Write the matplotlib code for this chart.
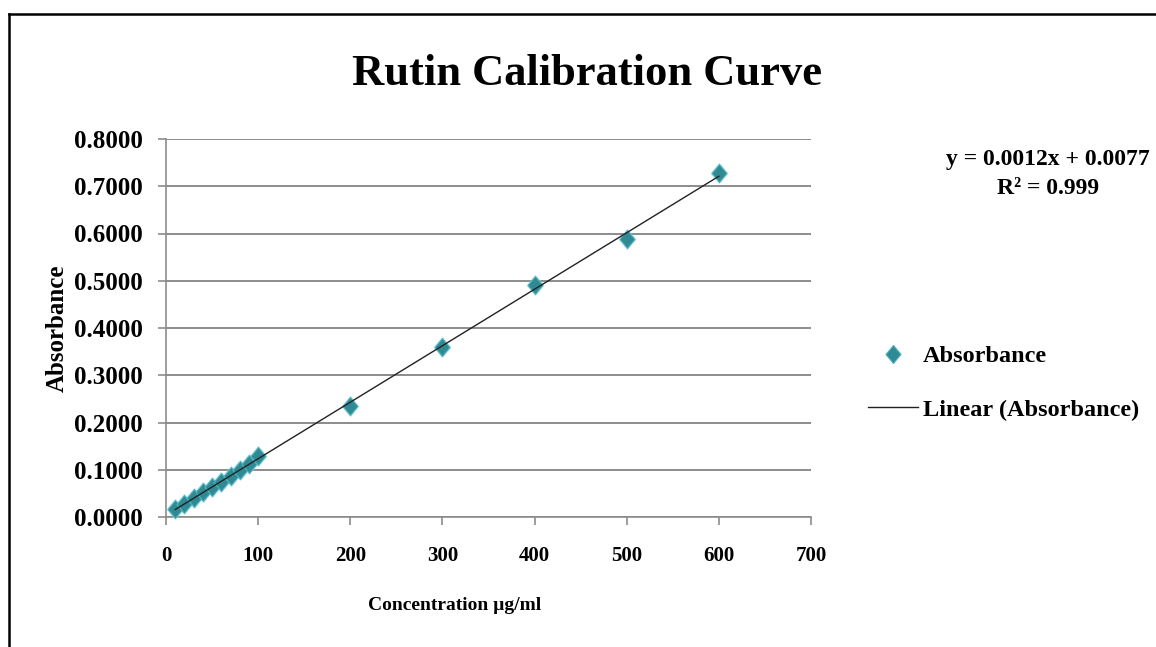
import numpy as np
import matplotlib
matplotlib.use('Agg')
import matplotlib.pyplot as plt
from matplotlib.lines import Line2D
from matplotlib.path import Path

plt.rcParams['font.family'] = ['Liberation Serif', 'DejaVu Serif']
plt.rcParams['font.weight'] = 'bold'

# data
conc = [10, 20, 30, 40, 50, 60, 70, 80, 90, 100, 200, 300, 400, 500, 600]
absorb = [0.016, 0.028, 0.040, 0.052, 0.063, 0.075, 0.087, 0.099, 0.113, 0.129,
          0.235, 0.360, 0.492, 0.589, 0.728]
x_ticks = [0, 100, 200, 300, 400, 500, 600, 700]
y_ticks = [0.0, 0.1, 0.2, 0.3, 0.4, 0.5, 0.6, 0.7, 0.8]

W, H = 1156, 647
fig = plt.figure(figsize=(W / 100, H / 100), dpi=100)
ax = fig.add_axes([166 / W, 1 - 517 / H, 645 / W, 378 / H])

teal = '#2f8a94'
gray = '#8c8c8c'

# slightly tall diamond like the Excel marker
diamond = Path([(0, -1.2), (1, 0), (0, 1.2), (-1, 0), (0, -1.2)],
               [Path.MOVETO, Path.LINETO, Path.LINETO, Path.LINETO, Path.CLOSEPOLY])

# linear trendline from a least squares fit
slope, icpt = np.polyfit(conc, absorb, 1)
xs = np.array([min(conc), max(conc)])
ax.plot(xs, slope * xs + icpt, color='#222222', lw=1.0, zorder=4,
        label='Linear (Absorbance)')

# soft glow + diamond markers
ax.plot(conc, absorb, ls='none', marker=diamond, ms=16, color='#9fdde3',
        alpha=0.45, mec='none', zorder=3, clip_on=False)
ax.plot(conc, absorb, ls='none', marker=diamond, ms=13, color=teal,
        mec='#4fb3bd', mew=0.8, zorder=3, clip_on=False, label='Absorbance')

ax.set_xlim(0, 700)
ax.set_ylim(0, 0.8)
ax.set_xticks(x_ticks)
ax.set_yticks(y_ticks)
ax.set_yticklabels(['%.4f' % v for v in y_ticks])
ax.yaxis.grid(True, color=gray, lw=1.4)
ax.set_axisbelow(True)

for s in ['top', 'right']:
    ax.spines[s].set_visible(False)
for s in ['left', 'bottom']:
    ax.spines[s].set_color(gray)
    ax.spines[s].set_linewidth(1.2)

ax.tick_params(axis='y', direction='out', length=6, width=1.2, color=gray,
               pad=11, labelsize=18)
ax.tick_params(axis='x', direction='out', length=6, width=1.2, color=gray,
               pad=15, labelsize=15)

ax.set_xlabel('Concentration µg/ml', fontsize=14, fontweight='bold')
ax.xaxis.set_label_coords((455 - 166) / 645, -(597 - 517) / 378)
ax.set_ylabel('Absorbance', fontsize=18, fontweight='bold')
ax.yaxis.set_label_coords((69 - 166) / 645, 0.5)

fig.text(587 / W, 1 - 74 / H, 'Rutin Calibration Curve', fontsize=32,
         fontweight='bold', ha='center', va='center')

fig.text(1048 / W, 1 - 174 / H, 'y = 0.0012x + 0.0077\nR² = 0.999',
         fontsize=17, fontweight='bold', ha='center', va='center',
         multialignment='center', linespacing=1.45)

# legend
handles, labels = ax.get_legend_handles_labels()
leg = fig.legend(handles[::-1], labels[::-1], loc='upper left',
                 bbox_to_anchor=(868 / W, 1 - 345 / H), frameon=False,
                 fontsize=17.5, handlelength=2.05, handletextpad=0.2,
                 labelspacing=1.3, borderpad=0, borderaxespad=0)

# outer frame (only left and top edges visible)
fig.add_artist(Line2D([9 / W, 9 / W], [0, 1 - 14 / H], color='black', lw=1.8,
                      transform=fig.transFigure))
fig.add_artist(Line2D([9 / W, 1], [1 - 14 / H, 1 - 14 / H], color='black',
                      lw=1.8, transform=fig.transFigure))

fig.savefig('out.png', dpi=100)
